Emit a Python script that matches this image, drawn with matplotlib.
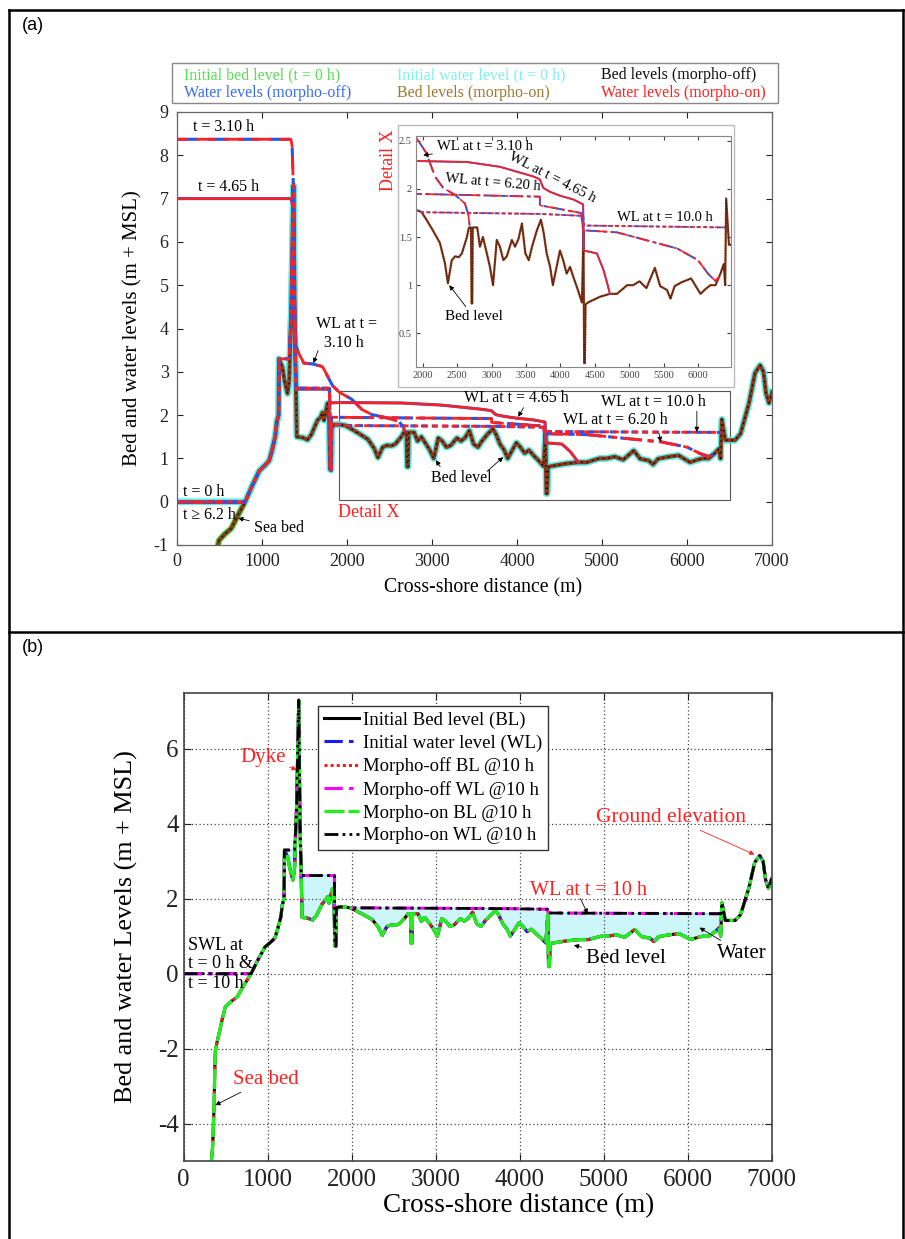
import numpy as np
import matplotlib
matplotlib.use("Agg")
from matplotlib import pyplot as plt
from matplotlib.patches import Rectangle
from matplotlib.lines import Line2D
from matplotlib.ticker import FormatStrFormatter

plt.rcParams["font.family"] = ["Liberation Serif", "DejaVu Serif"]
plt.rcParams["axes.unicode_minus"] = False

# cross-shore bed profile (m, m + MSL)
bed_x = np.array([330, 345, 358, 362, 370, 377, 400, 425, 460, 495, 560, 637, 720, 802, 880, 967,
                  1040, 1085, 1120, 1156, 1175, 1195, 1200, 1240, 1265, 1300, 1320, 1345, 1370, 1385,
                  1400, 1410, 1480, 1535, 1580, 1653, 1690, 1712, 1730, 1771, 1790, 1800, 1812, 1818,
                  1850, 1908, 1980, 2053, 2145, 2247, 2320, 2364, 2420, 2470, 2520, 2567, 2640, 2670,
                  2700, 2708, 2718, 2725, 2790, 2830, 2873, 2930, 2975, 3020, 3074, 3120, 3170, 3220,
                  3294, 3340, 3390, 3440, 3490, 3540, 3587, 3658, 3716, 3755, 3800, 3850, 3890, 3945,
                  3993, 4040, 4090, 4140, 4190, 4254, 4313, 4335, 4345, 4355, 4365, 4400, 4575, 4720,
                  4822, 4970, 5055, 5150, 5250, 5373, 5450, 5550, 5600, 5660, 5760, 5900, 6036, 6110,
                  6180, 6255, 6327, 6375, 6395, 6410, 6450, 6565, 6630, 6730, 6800, 6860, 6900, 6930,
                  6965, 7000])
bed_z = np.array([-5.0, -4.6, -3.8, -3.5, -2.6, -2.05, -1.8, -1.56, -1.2, -0.89, -0.75, -0.62, -0.3, 0.0, 0.35, 0.71,
                  0.85, 0.95, 1.2, 1.51, 1.85, 2.0, 3.3, 3.1, 2.8, 2.5, 2.8, 4.5, 7.3, 4.0,
                  2.5, 1.5, 1.48, 1.43, 1.55, 1.88, 1.95, 2.06, 1.88, 2.27, 1.9, 0.75, 0.73, 1.7,
                  1.78, 1.78, 1.76, 1.68, 1.57, 1.44, 1.23, 1.02, 1.26, 1.30, 1.29, 1.33, 1.5, 1.6,
                  1.6, 0.81, 0.81, 1.6, 1.6, 1.4, 1.5, 1.33, 1.19, 1.0, 1.47, 1.4, 1.26, 1.3,
                  1.47, 1.4, 1.48, 1.64, 1.33, 1.26, 1.4, 1.57, 1.68, 1.55, 1.33, 1.19, 1.0, 1.19,
                  1.36, 1.26, 1.12, 1.19, 1.08, 0.95, 0.82, 1.57, 0.19, 0.19, 0.8, 0.82, 0.88, 0.91,
                  0.91, 1.0, 1.0, 1.04, 0.97, 1.18, 0.99, 0.95, 0.86, 0.99, 1.03, 1.07, 0.91, 0.96,
                  1.0, 1.0, 1.12, 1.22, 1.0, 1.9, 1.42, 1.42, 1.57, 2.28, 2.97, 3.15, 3.0, 2.5,
                  2.28, 2.53])

# water levels, wet stretches separated by nan
wl000_x = [0, 802]
wl000_y = [0, 0]
wl310_x = [0, 1340, 1355, 1365, 1375, 1385, 1400, 1432, 1492, 1600, 1712, 1771, 1830, 1908, 2053,
           2175, 2296, 2465, 2611, 2659, 2680]
wl310_y = [8.37, 8.37, 8.2, 7.5, 6.0, 4.5, 3.6, 3.43, 3.2, 3.18, 3.12, 2.9, 2.68, 2.53, 2.37,
           2.13, 2.01, 1.94, 1.85, 1.74, 1.62]
wl465_x = [0, 1340, 1355, 1365, 1375, 1390, 1400, 1790, 1800, 1908, 2640, 3120, 3363, 3605, 3700,
           3751, 3850, 3993, 4190, 4300, 4330, 4340, 4530, 4625, 4680, 4720]
wl465_y = [7.0, 7.0, 6.9, 6.0, 4.5, 3.0, 2.6, 2.6, 2.28, 2.29, 2.28, 2.23, 2.18, 2.13, 2.1,
           2.01, 1.97, 1.93, 1.89, 1.85, 1.84, 1.36, 1.33, 1.16, 1.02, 0.91]
wl620_x = [0, 802, np.nan, 1200, 1340, np.nan, 1400, 1795, np.nan, 1818, 2500, 3000, 3700, 3702,
           4000, 4300, 4330, 4817, 5447, 5700, 6000, 6145, 6315]
wl620_y = [0, 0, np.nan, 3.3, 3.3, np.nan, 2.62, 2.62, np.nan, 1.95, 1.94, 1.93, 1.92, 1.83,
           1.79, 1.75, 1.57, 1.55, 1.43, 1.38, 1.26, 1.12, 1.0]
wl100_x = [0, 802, np.nan, 1200, 1340, np.nan, 1400, 1795, np.nan, 1818, 3730, 4330, 4340, 6400]
wl100_y = [0, 0, np.nan, 3.3, 3.3, np.nan, 2.62, 2.62, np.nan, 1.76, 1.74, 1.72, 1.62, 1.6]


def surface(wx, wy, front):
    # water surface: level where wet, bed where dry, up to the wet/dry front
    wx = np.asarray(wx, float)
    wy = np.asarray(wy, float)
    grid = np.union1d(bed_x, wx[~np.isnan(wx)])
    grid = grid[grid <= front]
    lev = np.full(grid.shape, -np.inf)
    cuts = np.where(np.isnan(wx))[0]
    for sx, sy in zip(np.split(wx, cuts), np.split(wy, cuts)):
        ok = ~np.isnan(sx)
        sx, sy = sx[ok], sy[ok]
        inside = (grid >= sx[0]) & (grid <= sx[-1])
        lev[inside] = np.interp(grid[inside], sx, sy)
    bz = np.interp(grid, bed_x, bed_z, left=-np.inf)
    return grid, np.maximum(lev, bz)


W, H = 905, 1239
fig = plt.figure(figsize=(W / 100, H / 100), dpi=100)


def fx(px):
    return px / W


def fy(py):
    return 1 - py / H


# table frame
for (x0, y0, x1, y1) in [(9, 10, 903, 10), (9, 10, 9, 1238), (903, 10, 903, 1238), (9, 632, 903, 632)]:
    fig.add_artist(Line2D([fx(x0), fx(x1)], [fy(y0), fy(y1)], color="k", lw=1.8))
fig.text(fx(22), fy(25), "(a)", family="Liberation Sans", fontsize=13, va="center")
fig.text(fx(22), fy(647), "(b)", family="Liberation Sans", fontsize=13, va="center")

BLUE, RED = "#2255ee", "#ff2020"
BROWN = "#8b3a1a"
series_a = [
    (wl000_x, wl000_y, 802, (0, (5, 3))),
    (wl310_x, wl310_y, 2680, (0, (7, 3))),
    (wl465_x, wl465_y, 4720, "-"),
    (wl620_x, wl620_y, 6315, (0, (7, 2, 2, 2))),
    (wl100_x, wl100_y, 6400, (0, (2, 1.5))),
]

# ---------------- panel (a)
ax = fig.add_axes([fx(177), fy(545), fx(772) - fx(177), fy(112) - fy(545)])
gx, gz = surface(wl000_x, wl000_y, 7000)
ax.plot(bed_x, bed_z, color="#33dd33", lw=4.4)
ax.plot(gx, gz, color="#55f0f0", lw=4.8, solid_capstyle="round")
ax.plot(bed_x, bed_z, color=BROWN, lw=2.8)
ax.plot(bed_x, bed_z, color="k", lw=1.0, ls=(0, (1, 3)))
for wx, wy, front, ls in series_a:
    sx, sz = surface(wx, wy, front)
    ax.plot(sx, sz, color=BLUE, lw=2.2, ls="-" if ls == "-" else ls)
    off = ls if ls == "-" else (3, ls[1])
    ax.plot(sx, sz, color=RED, lw=1.8 if ls == "-" else 2.0, ls=off)

ax.add_patch(Rectangle((1900, 0.05), 4600, 2.5, fill=False, ec="#555555", lw=0.8, zorder=1))
ax.set_xlim(0, 7000)
ax.set_ylim(-1, 9)
ax.set_xticks(range(0, 7001, 1000))
ax.set_yticks(range(-1, 10))
ax.tick_params(direction="in", top=True, right=True, labelsize=13, length=4, pad=6, colors="#222222")
for s in ax.spines.values():
    s.set_color("#666666")
    s.set_linewidth(0.9)
ax.set_xlabel("Cross-shore distance (m)", fontsize=14.2)
ax.set_ylabel("Bed and water levels (m + MSL)", fontsize=15)
ax.xaxis.set_label_coords((483 - 177) / 595, -(578 - 545) / 433)
ax.yaxis.set_label_coords(-(177 - 142) / 595, 0.5)

fs = 11.5
arr = dict(arrowstyle="-|>", color="k", lw=0.6, mutation_scale=7, shrinkA=1, shrinkB=0)
ax.text(189, 8.65, "t = 3.10 h", fontsize=fs, va="center")
ax.text(248, 7.27, "t = 4.65 h", fontsize=fs, va="center")
ax.text(71, 0.22, "t = 0 h", fontsize=fs, va="center")
ax.text(71, -0.31, "t \u2265 6.2 h", fontsize=fs, va="center")
ax.annotate("Sea bed", xy=(720, -0.38), xytext=(900, -0.6), fontsize=fs, va="center", arrowprops=arr)
ax.text(1630, 4.1, "WL at t =", fontsize=fs, va="center")
ax.text(1724, 3.66, "3.10 h", fontsize=fs, va="center")
ax.annotate("", xy=(1606, 3.2), xytext=(1665, 3.52), arrowprops=arr)
ax.text(3377, 2.39, "WL at t = 4.65 h", fontsize=fs, va="center")
ax.annotate("", xy=(4014, 1.96), xytext=(4085, 2.2), arrowprops=arr)
ax.text(4994, 2.3, "WL at t = 10.0 h", fontsize=fs, va="center")
ax.annotate("", xy=(6116, 1.61), xytext=(6116, 2.12), arrowprops=arr)
ax.text(4545, 1.89, "WL at t = 6.20 h", fontsize=fs, va="center")
ax.annotate("", xy=(5690, 1.38), xytext=(5667, 1.62), arrowprops=arr)
ax.text(2987, 0.55, "Bed level", fontsize=fs, va="center")
ax.annotate("", xy=(3046, 0.96), xytext=(3105, 0.78), arrowprops=arr)
ax.annotate("", xy=(3837, 1.03), xytext=(3636, 0.68), arrowprops=arr)
ax.text(2255, -0.24, "Detail X", fontsize=13, color="#ff2020", ha="center", va="center")

# legend of panel (a): coloured texts in a box
fig.add_artist(Rectangle((fx(172), fy(103)), fx(778) - fx(172), fy(63) - fy(103),
                         transform=fig.transFigure, fill=False, ec="#888888", lw=1))
leg_labels = ["Initial bed level (t = 0 h)", "Water levels (morpho-off)",
              "Initial water level (t = 0 h)", "Bed levels (morpho-on)",
              "Bed levels (morpho-off)", "Water levels (morpho-on)"]
leg_colors = ["#55e055", "#3a6cf0", "#7ff0f0", "#a07830", "#111111", "#ff2020"]
for i, (lab, col) in enumerate(zip(leg_labels, leg_colors)):
    cx = [184, 397, 601][i // 2]
    cy = [75, 93][i % 2]
    fig.text(fx(cx), fy(cy), lab, color=col, fontsize=11.5, va="center")

# inset (Detail X)
fig.add_artist(Rectangle((fx(398), fy(387)), fx(734) - fx(398), fy(125) - fy(387),
                         transform=fig.transFigure, fc="white", ec="#bbbbbb", lw=1, zorder=1))
fig.text(fx(388), fy(160), "Detail X", color="#ff2020", fontsize=13, rotation=90,
         ha="center", va="center", zorder=3)
ai = fig.add_axes([fx(416), fy(367), fx(731) - fx(416), fy(136) - fy(367)], zorder=2)
ai.plot(bed_x, bed_z, color=BROWN, lw=1.6)
ai.plot(bed_x, bed_z, color="k", lw=0.6, ls=(0, (1, 2)))
for wx, wy, front, ls in series_a:
    sx, sz = surface(wx, wy, front)
    ai.plot(sx, sz, color=BLUE, lw=1.4, ls="-" if ls == "-" else ls)
    off = ls if ls == "-" else (3, ls[1])
    ai.plot(sx, sz, color=RED, lw=1.2, ls=off)
ai.set_xlim(1900, 6480)
ai.set_ylim(0.15, 2.55)
ai.set_xticks(range(2000, 6001, 500))
ai.set_yticks([0.5, 1, 1.5, 2, 2.5])
ai.yaxis.set_major_formatter(FormatStrFormatter("%g"))
ai.tick_params(direction="in", top=True, right=True, labelsize=7.5, length=3, pad=3, colors="#444444")
for s in ai.spines.values():
    s.set_color("#888888")
    s.set_linewidth(0.8)
fi = 10.5
ai.annotate("WL at t = 3.10 h", xy=(2005, 2.35), xytext=(2199, 2.44), fontsize=fi, va="center", arrowprops=arr)
ai.text(3880, 2.12, "WL at t = 4.65 h", fontsize=fi, rotation=-27, rotation_mode="anchor",
        ha="center", va="center")
ai.text(2320, 2.07, "WL at t = 6.20 h", fontsize=fi, rotation=-5, va="center")
ai.text(4817, 1.70, "WL at t = 10.0 h", fontsize=fi, va="center")
ai.annotate("Bed level", xy=(2383, 1.0), xytext=(2320, 0.67), fontsize=11, va="center", arrowprops=arr)

# ---------------- panel (b)
bx = fig.add_axes([fx(183.7), fy(1161), fx(771.5) - fx(183.7), fy(692.7) - fy(1161)])
g10, s10 = surface(wl100_x, wl100_y, 7000)
b10 = np.interp(g10, bed_x, bed_z, left=np.nan)
bx.fill_between(g10, b10, s10, where=(s10 > b10 + 0.01) & (g10 > 1000), interpolate=True,
                fc="#cdf6fa", ec="#7fe3ef", lw=0.8)
g0, s0 = surface(wl000_x, wl000_y, 7000)
h1, = bx.plot(bed_x, bed_z, color="k", lw=2.2, label="Initial Bed level (BL)")
h2, = bx.plot(g0, s0, color="#1a1aff", lw=2.2, ls=(0, (6, 2, 1.5, 2)), label="Initial water level (WL)")
h3, = bx.plot(bed_x, bed_z, color="#ff1a1a", lw=2.2, ls=(0, (1, 1)), label="Morpho-off BL @10 h")
h4, = bx.plot(g10, s10, color="#ff00ff", lw=2.2, ls=(0, (6, 2, 1.5, 2)), label="Morpho-off WL @10 h")
h5, = bx.plot(bed_x, bed_z, color="#22ee22", lw=2.4, ls=(0, (6, 1.2)), label="Morpho-on BL @10 h")
h6, = bx.plot(g10, s10, color="k", lw=2.0, ls=(0, (5, 1.5, 1, 1.5, 1, 1.5)), label="Morpho-on WL @10 h")
bx.set_xlim(0, 7000)
bx.set_ylim(-5, 7.5)
bx.set_xticks(range(0, 7001, 1000))
bx.set_yticks([-4, -2, 0, 2, 4, 6])
bx.grid(True, ls=(0, (1, 2)), color="#444444", lw=0.9)
bx.tick_params(direction="in", top=True, right=True, labelsize=18, length=5, colors="#222222")
bx.tick_params(axis="x", pad=6)
for s in bx.spines.values():
    s.set_color("#444444")
    s.set_linewidth(1.2)
bx.set_xlabel("Cross-shore distance (m)", fontsize=19.5)
bx.set_ylabel("Bed and water Levels (m + MSL)", fontsize=18.8)
bx.xaxis.set_label_coords((519 - 183.7) / 587.8, -(1193 - 1161) / 468.3)
bx.yaxis.set_label_coords(-(183.7 - 138) / 587.8, 0.5)
bx.legend(handles=[h1, h2, h3, h4, h5, h6], loc="upper left", bbox_to_anchor=(0.2285, 0.9716),
          borderaxespad=0, fancybox=False, edgecolor="#333333", framealpha=1, fontsize=13.5,
          handlelength=1.9, handletextpad=0.2, labelspacing=0.3, borderpad=0.3)

fb = 15
arr_r = dict(arr, color="#ff2020")
bx.annotate("Dyke", xy=(1347, 5.44), xytext=(671, 5.78), fontsize=fb, color="#ff2020", va="center",
            arrowprops=arr_r)
bx.annotate("Ground elevation", xy=(6797, 3.18), xytext=(4914, 4.17), fontsize=15.5, color="#ff2020",
            va="center", arrowprops=arr_r)
bx.text(4127, 2.22, "WL at t = 10 h", fontsize=14.5, color="#ff2020", va="center")
bx.annotate("", xy=(4811, 1.6), xytext=(4717, 2.04), arrowprops=arr)
bx.annotate("Bed level", xy=(4646, 0.76), xytext=(4788, 0.41), fontsize=fb, va="center", arrowprops=arr)
bx.annotate("Water", xy=(6142, 1.23), xytext=(6356, 0.54), fontsize=fb, va="center", arrowprops=arr)
bx.text(47, 0.75, "SWL at", fontsize=13, va="center")
bx.text(47, 0.27, "t = 0 h &", fontsize=13, va="center")
bx.text(47, -0.26, "t = 10 h", fontsize=13, va="center")
bx.annotate("Sea bed", xy=(377, -3.51), xytext=(590, -2.82), fontsize=fb, color="#ff2020", va="center",
            arrowprops=arr)

fig.savefig("out.png", dpi=100)
